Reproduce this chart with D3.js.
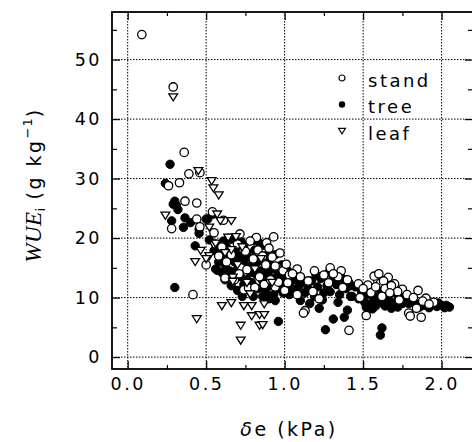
<!DOCTYPE html>
<html><head><meta charset="utf-8">
<script src="https://cdn.jsdelivr.net/npm/d3@7"></script>
<style>
html,body{margin:0;padding:0;background:#fff;}
svg{display:block;}
</style></head>
<body>
<svg id="chart" width="472" height="442"></svg>
<script>
// ---- data ----
const xTicks = [0, 0.5, 1.0, 1.5, 2.0];
const xTickLabels = ["0.0", "0.5", "1.0", "1.5", "2.0"];
const xMinor = [0.25, 0.75, 1.25, 1.75];
const yTicks = [0, 10, 20, 30, 40, 50];
const yTickLabels = ["0", "10", "20", "30", "40", "50"];
const yMinor = [5, 15, 25, 35, 45, 55];
const seriesNames = ["stand", "tree", "leaf"];

const standPts = [
[0.09,54.2],[0.29,45.4],[0.36,34.4],[0.39,30.8],[0.46,31.0],[0.33,29.3],[0.26,28.8],[0.365,26.2],[0.44,25.9],[0.28,21.6],
[0.44,23.2],[0.54,24.4],[0.61,23.0],[0.46,21.9],[0.55,20.9],[0.715,20.7],[0.82,20.1],[0.93,20.2],[0.885,19.2],[0.50,15.5],
[0.416,10.5],[0.62,13.3],[0.74,11.3],[0.77,11.6],[0.81,11.7],
[0.60,18.5],[0.63,16.0],[0.66,17.2],[0.70,19.0],[0.72,15.0],[0.75,17.8],[0.78,19.5],[0.80,16.5],[0.83,18.0],[0.86,17.0],
[0.88,15.5],[0.90,18.3],[0.92,16.8],[0.95,15.2],[0.97,17.5],[0.99,14.5],[1.01,15.6],[1.03,13.8],[0.68,13.0],[0.84,13.5],
[0.87,12.2],[0.91,13.0],[0.94,11.8],[0.58,17.0],[0.71,14.0],[0.76,14.7],[0.96,12.6],[1.00,11.2],[1.02,12.5],[0.94,15.3],
[1.08,14.8],[1.19,14.5],[1.29,15.0],[1.36,14.5],[1.25,13.8],[1.34,13.5],[1.37,11.7],[1.22,9.8],[1.13,7.8],[1.12,7.4],
[1.41,4.5],[1.08,10.5],[1.15,12.8],[1.10,13.5],[1.28,12.5],[1.31,14.0],[1.40,13.0],[1.05,14.0],[1.18,11.0],
[1.52,7.0],[1.47,12.3],[1.53,12.1],[1.59,13.1],[1.66,13.4],[1.61,12.4],[1.70,12.3],[1.75,11.4],[1.85,11.2],[1.90,9.9],
[1.79,7.4],[1.80,6.9],[1.87,6.7],[1.57,13.6],[1.60,14.0],[1.63,12.8],[1.64,11.5],[1.68,12.0],[1.72,11.0],[1.55,10.8],
[1.62,10.2],[1.78,10.5],[1.82,10.0],[1.50,11.5],[1.58,11.8],[1.67,10.8],[1.73,9.6],[1.88,9.4],[1.95,9.2],[1.92,8.9],
[1.48,10.0],[1.84,8.2]
];

const treePts = [
[0.27,32.4],[0.24,29.2],[0.29,25.7],[0.32,24.8],[0.31,25.5],[0.30,26.2],[0.365,23.4],[0.40,22.6],[0.355,21.8],[0.28,22.9],
[0.50,23.2],[0.54,24.0],[0.455,20.8],[0.43,18.7],[0.57,14.6],[0.30,11.7],[0.73,10.2],[0.80,10.2],[0.93,10.5],[0.96,6.0],
[0.52,19.7],[0.55,17.9],[0.56,14.8],[0.51,23.2],[0.455,21.5],
[0.56,19.0],[0.58,18.0],[0.60,17.2],[0.61,19.5],[0.62,15.5],[0.63,18.5],[0.64,16.8],[0.65,14.5],[0.66,19.8],[0.67,17.5],
[0.68,16.0],[0.69,18.2],[0.70,14.8],[0.71,17.0],[0.72,13.5],[0.73,16.2],[0.74,18.8],[0.75,15.5],[0.76,13.0],[0.77,16.8],
[0.78,14.2],[0.79,12.5],[0.80,15.8],[0.81,18.0],[0.82,13.8],[0.83,11.5],[0.84,16.2],[0.85,14.5],[0.86,12.8],[0.87,18.8],
[0.88,11.0],[0.89,14.0],[0.90,16.0],[0.91,12.0],[0.92,14.8],[0.93,13.2],[0.94,17.2],[0.95,11.5],[0.96,14.0],[0.97,12.5],
[0.98,15.5],[0.99,10.8],[1.00,13.5],[1.01,12.0],[1.02,14.5],[1.03,10.5],[1.04,12.8],[1.05,11.5],[0.66,12.0],[0.70,11.2],
[0.74,12.2],[0.62,13.0],[0.68,14.0],[0.76,17.5],[0.80,19.6],[0.58,16.0],[0.64,20.0],[0.72,19.5],[0.84,19.2],[0.88,17.0],
[0.78,11.0],[0.86,10.2],[0.90,9.8],[0.94,9.5],[0.98,13.0],[0.60,14.2],
[1.07,13.0],[1.09,11.8],[1.11,12.5],[1.13,10.8],[1.15,11.5],[1.17,12.8],[1.19,10.2],[1.21,11.8],[1.23,13.2],[1.25,10.8],
[1.27,12.0],[1.29,11.0],[1.31,13.5],[1.33,12.2],[1.35,10.5],[1.37,13.2],[1.39,11.5],[1.41,12.5],[1.43,10.2],[1.45,11.8],
[1.22,8.2],[1.26,4.6],[1.31,6.4],[1.38,6.7],[1.40,7.9],[1.42,12.0],[1.42,10.2],[1.10,9.5],[1.16,9.0],[1.24,9.6],
[1.34,9.2],[1.20,13.8],[1.28,14.2],
[1.47,9.8],[1.49,11.0],[1.51,9.2],[1.53,10.5],[1.55,9.0],[1.57,10.2],[1.59,9.5],[1.61,11.2],[1.63,9.0],[1.65,10.0],
[1.67,9.4],[1.69,10.8],[1.71,9.2],[1.73,10.2],[1.75,9.0],[1.77,9.8],[1.79,9.0],[1.81,9.6],[1.62,4.9],[1.61,3.7],
[1.52,8.4],[1.56,8.1],[1.64,8.6],[1.68,8.2],[1.72,8.4],[1.60,12.0],[1.66,12.3],[1.54,11.8],[1.70,11.8],[1.58,8.6],
[1.83,9.0],[1.85,8.8],[1.87,9.1],[1.89,8.7],[1.91,9.0],[1.93,8.6],[1.95,8.9],[1.97,8.5],[1.99,8.8],[2.01,8.6],
[2.03,8.7],[2.05,8.4],[1.92,8.3],[1.98,9.1],[2.02,8.3],[1.86,8.4]
];

const leafPts = [
[0.29,43.7],[0.45,31.3],[0.535,29.6],[0.546,28.4],[0.58,27.2],[0.24,23.8],[0.59,22.9],[0.66,22.9],[0.52,21.8],[0.465,17.9],
[0.43,16.0],[0.52,17.0],[0.55,18.8],[0.64,20.1],[0.60,8.6],[0.66,9.1],[0.74,8.6],[0.79,8.6],[0.87,8.9],[0.44,6.4],
[0.79,6.9],[0.72,5.3],[0.72,2.8],[0.84,7.1],[0.84,5.3],[0.87,7.1],[0.86,5.4],[0.67,13.4],[0.67,12.7],[0.66,18.0],
[0.56,19.1],[0.62,17.5],[0.70,15.5],[0.76,12.5],[0.73,18.5],[0.81,14.8],[0.85,16.5],[0.78,10.6],[0.92,12.5],[0.50,16.5],
[0.57,24.0],[0.69,20.2]
];

// ---- layout ----
const svg = d3.select("#chart");
const L = 112, R = 473, T = 12, B = 369;
const x = d3.scaleLinear().domain([-0.1, 2.2]).range([L, R]);
const y = d3.scaleLinear().domain([-2, 58]).range([B, T]);
const numFont = "'DejaVu Sans', sans-serif";

// grid
const grid = svg.append("g").attr("stroke", "#000").attr("stroke-width", 1).attr("stroke-dasharray", "1.5,1.5");
grid.selectAll(".gx").data(xTicks).join("line")
  .attr("x1", d => x(d)).attr("x2", d => x(d)).attr("y1", T).attr("y2", B);
grid.selectAll(".gy").data(yTicks).join("line")
  .attr("x1", L).attr("x2", R).attr("y1", d => y(d)).attr("y2", d => y(d));

// axes
function styleAxis(g) {
  g.select(".domain").remove();
  g.selectAll(".tick line").attr("stroke", "#000").attr("stroke-width", 1.2);
  g.selectAll("text").attr("font-family", numFont).attr("font-size", 17.5)
    .attr("letter-spacing", "2.5px").attr("fill", "#000");
}
svg.append("g").attr("transform", `translate(0,${B})`)
  .call(d3.axisBottom(x).tickValues(xTicks).tickFormat((d, i) => xTickLabels[i]).tickSize(-8).tickPadding(9))
  .call(styleAxis);
svg.append("g").attr("transform", `translate(0,${B})`)
  .call(d3.axisBottom(x).tickValues(xMinor).tickFormat("").tickSize(-4)).call(styleAxis);
svg.append("g").attr("transform", `translate(0,${T})`)
  .call(d3.axisTop(x).tickValues(xTicks).tickFormat("").tickSize(-8)).call(styleAxis);
svg.append("g").attr("transform", `translate(0,${T})`)
  .call(d3.axisTop(x).tickValues(xMinor).tickFormat("").tickSize(-4)).call(styleAxis);
svg.append("g").attr("transform", `translate(${L},0)`)
  .call(d3.axisLeft(y).tickValues(yTicks).tickFormat((d, i) => yTickLabels[i]).tickSize(-8).tickPadding(10))
  .call(styleAxis);
svg.append("g").attr("transform", `translate(${L},0)`)
  .call(d3.axisLeft(y).tickValues(yMinor).tickFormat("").tickSize(-5)).call(styleAxis);
svg.append("g").attr("transform", `translate(${R},0)`)
  .call(d3.axisRight(y).tickValues(yTicks).tickFormat("").tickSize(-8)).call(styleAxis);
svg.append("g").attr("transform", `translate(${R},0)`)
  .call(d3.axisRight(y).tickValues(yMinor).tickFormat("").tickSize(-5)).call(styleAxis);

// frame
svg.append("rect").attr("x", L).attr("y", T).attr("width", R - L).attr("height", B - T)
  .attr("fill", "none").attr("stroke", "#000").attr("stroke-width", 1.8);

// points (tree underneath, stand and leaf drawn over it)
const r = 4.2;
const tri = s => `M${-s},${-s * 0.75}L${s},${-s * 0.75}L0,${s * 0.85}Z`;
const pts = svg.append("g");
pts.selectAll(".tree").data(treePts).join("circle")
  .attr("cx", d => x(d[0])).attr("cy", d => y(d[1])).attr("r", r)
  .attr("fill", "#000").attr("stroke", "#000").attr("stroke-width", 1);
pts.selectAll(".stand").data(standPts).join("circle")
  .attr("cx", d => x(d[0])).attr("cy", d => y(d[1])).attr("r", r)
  .attr("fill", "#fff").attr("stroke", "#000").attr("stroke-width", 1.3);
pts.selectAll(".leaf").data(leafPts).join("path")
  .attr("d", tri(4.4)).attr("transform", d => `translate(${x(d[0])},${y(d[1])})`)
  .attr("fill", "#fff").attr("stroke", "#000").attr("stroke-width", 1.3);

// legend
const lg = svg.append("g").attr("transform", "translate(342,78)");
const rowH = 26.5;
lg.append("circle").attr("cx", 0).attr("cy", 0).attr("r", 3).attr("fill", "#fff").attr("stroke", "#000").attr("stroke-width", 1.2);
lg.append("circle").attr("cx", 0).attr("cy", rowH).attr("r", 3.2).attr("fill", "#000");
lg.append("path").attr("d", tri(3.4)).attr("transform", `translate(0,${rowH * 2})`)
  .attr("fill", "#fff").attr("stroke", "#000").attr("stroke-width", 1.2);
lg.selectAll("text").data(seriesNames).join("text")
  .attr("x", 26).attr("y", (d, i) => i * rowH + 8.5)
  .attr("font-family", numFont).attr("font-size", 18).attr("letter-spacing", "2.5px")
  .text(d => d);

// axis titles
const xt = svg.append("text").attr("x", 289).attr("y", 436).attr("text-anchor", "middle")
  .attr("font-family", numFont).attr("font-size", 19).attr("letter-spacing", "2.5px");
xt.append("tspan").attr("font-style", "italic").text("δ");
xt.append("tspan").text("e (kPa)");

const yt = svg.append("text").attr("transform", "translate(41,185) rotate(-90)").attr("text-anchor", "middle")
  .attr("font-family", numFont).attr("font-size", 19).attr("letter-spacing", "2.5px");
yt.append("tspan").attr("font-family", "'Liberation Serif', serif").attr("font-style", "italic")
  .attr("font-size", 23).attr("letter-spacing", "0.5px").text("WUE");
yt.append("tspan").attr("font-size", 12).attr("dy", 4).attr("letter-spacing", "0px").text("i");
yt.append("tspan").attr("dy", -4).text(" (g kg");
yt.append("tspan").attr("font-size", 13).attr("dy", -9).attr("letter-spacing", "1px").text("−1");
yt.append("tspan").attr("dy", 9).text(")");
</script>
</body></html>
